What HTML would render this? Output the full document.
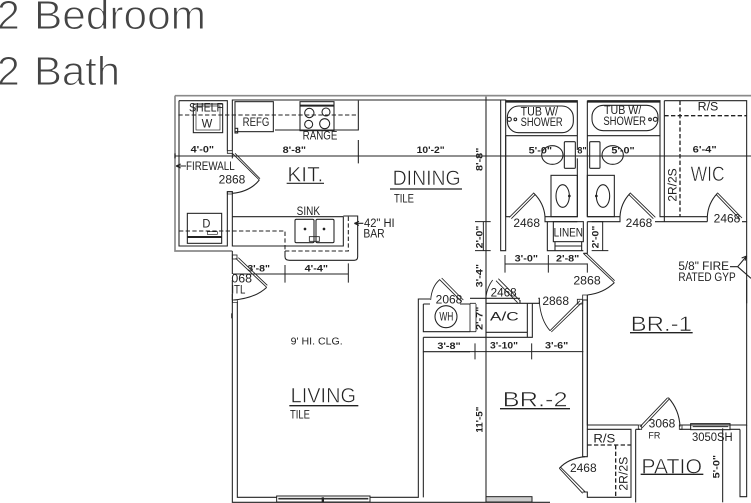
<!DOCTYPE html>
<html><head><meta charset="utf-8"><style>
html,body{margin:0;padding:0;background:#fff;width:751px;height:503px;overflow:hidden}
svg{display:block}
text{font-family:"Liberation Sans",sans-serif;fill:#222}
.l{fill:none;stroke:#222;stroke-width:3.2}
.g{fill:none;stroke:#8a8a8a;stroke-width:5}
.d{fill:none;stroke:#222;stroke-width:3.2;stroke-dasharray:13 7}
.b{font-weight:bold;font-size:27px;fill:#222}
.n{font-size:37px;fill:#222}
.h{font-size:64px;fill:#222;stroke:#fff;stroke-width:1.6px}
.t{fill:#444;stroke:#fff;stroke-width:1px;font-size:41px}
</style></head><body>
<svg width="751" height="503" viewBox="0 0 751 503" xmlns="http://www.w3.org/2000/svg">
<text class="t" x="-3" y="29">2</text><text class="t" x="34" y="29" textLength="172" lengthAdjust="spacingAndGlyphs">Bedroom</text>
<text class="t" x="-3" y="85">2</text><text class="t" x="34" y="85" textLength="86" lengthAdjust="spacingAndGlyphs">Bath</text>

<!-- upper left -->
<g transform="translate(170,90) scale(.33333)">
<path class="g" d="M15 17H1745M15 17V483H187"/>
<path class="l" d="M27 32H172V182M187 182V30H900M27 32V468H172V305H187V380H520M187 305V468H520V380M187 483V630M15 198H900"/>
<path class="l" d="M172 182H187V190H172ZM172 305H187V312H172Z" style="stroke-width:2.5"/>
<path class="d" d="M25 75H565"/>
<path class="l" d="M565 32V120H315M565 150V220M15 190V205M187 190V205"/>
<!-- washer -->
<rect class="l" x="70" y="42" width="88" height="86"/><rect class="l" x="78" y="48" width="72" height="72" style="stroke-width:2"/>
<text class="n" x="57" y="64" textLength="102" lengthAdjust="spacingAndGlyphs">SHELF</text>
<text class="n" x="95" y="112" textLength="32" lengthAdjust="spacingAndGlyphs">W</text>
<!-- refg -->
<rect class="l" x="195" y="35" width="115" height="90"/><rect x="195" y="115" width="8" height="14" class="l"/>
<text class="n" x="218" y="108" textLength="80" lengthAdjust="spacingAndGlyphs">REFG</text>
<!-- range -->
<rect class="l" x="390" y="35" width="102" height="87"/><path class="l" d="M390 47H492" style="stroke-width:6"/>
<circle class="l" cx="418" cy="69" r="14"/><circle class="l" cx="468" cy="66" r="12"/><circle class="l" cx="416" cy="103" r="12"/><circle class="l" cx="464" cy="101" r="15"/>
<text class="n" x="398" y="148" textLength="104" lengthAdjust="spacingAndGlyphs">RANGE</text>
<text class="b" x="62" y="188" textLength="70" lengthAdjust="spacingAndGlyphs">4'-0"</text>
<text class="b" x="338" y="189" textLength="70" lengthAdjust="spacingAndGlyphs">8'-8"</text>
<text class="b" x="740" y="189" textLength="84" lengthAdjust="spacingAndGlyphs">10'-2"</text>
<!-- firewall -->
<path class="l" d="M18 228H48M18 228L32 222M18 228L32 234"/>
<text class="n" x="48" y="240" textLength="146" lengthAdjust="spacingAndGlyphs">FIREWALL</text>
<text class="n" x="146" y="280" textLength="80" lengthAdjust="spacingAndGlyphs">2868</text>
<!-- door -->
<path class="l" d="M187 190L268 270M195 190L270 266" style="stroke-width:2.6"/><path class="l" d="M268 270Q240 305 187 310"/>
<text class="h" x="352" y="275" textLength="108" lengthAdjust="spacingAndGlyphs">KIT.</text>
<path class="l" d="M350 280H462"/>
<text class="h" x="668" y="285" textLength="204" lengthAdjust="spacingAndGlyphs">DINING</text>
<path class="l" d="M660 297H876" style="stroke-width:4"/>
<text class="n" x="672" y="337" textLength="60" lengthAdjust="spacingAndGlyphs">TILE</text>
<!-- dryer -->
<rect class="l" x="52" y="370" width="103" height="90"/>
<path class="l" d="M52 441H155" style="stroke-width:6"/><rect class="l" x="112" y="425" width="30" height="8" style="stroke-width:2"/>
<text class="n" x="97" y="412" textLength="24" lengthAdjust="spacingAndGlyphs">D</text>
<path class="d" d="M27 423H345V483"/>
<path class="d" d="M345 483H535V380"/>
<path class="l" d="M345 483V500Q345 511 358 511H553Q563 511 563 500V378H520"/>
<text class="n" x="380" y="375" textLength="70" lengthAdjust="spacingAndGlyphs">SINK</text>
<rect class="l" x="375" y="388" width="57" height="70" rx="4"/><rect class="l" x="438" y="388" width="54" height="70" rx="4"/>
<circle cx="405" cy="417" r="4" fill="#222"/><circle cx="462" cy="417" r="4" fill="#222"/>
<rect x="418" y="440" width="30" height="14" class="l" style="stroke-width:2.5"/>
<path class="l" d="M553 400H580M553 400L567 394M553 400L567 406"/>
<text class="n" x="582" y="411" textLength="92" lengthAdjust="spacingAndGlyphs">42" HI</text>
<text class="n" x="580" y="443" textLength="64" lengthAdjust="spacingAndGlyphs">BAR</text>
<path class="l" d="M187 552H535M345 525V578M535 520V578" style="stroke-width:3"/>
<text class="b" x="232" y="544" textLength="68" lengthAdjust="spacingAndGlyphs">3'-8"</text>
<text class="b" x="404" y="544" textLength="70" lengthAdjust="spacingAndGlyphs">4'-4"</text>
<!-- entry door -->
<rect class="l" x="187" y="495" width="14" height="12" style="stroke-width:2.5"/>
<path class="l" d="M197 505L290 592M205 503L292 586" style="stroke-width:2.6"/><path class="l" d="M290 592Q255 625 190 630"/>
<rect x="175" y="552" width="14" height="60" fill="#fff"/>
<text class="n" x="184" y="577" textLength="62" lengthAdjust="spacingAndGlyphs">068</text>
<text class="n" x="184" y="610" textLength="42" lengthAdjust="spacingAndGlyphs">ITL</text>
</g>

<!-- upper right -->
<g transform="translate(470,90) scale(.33333)">
<path class="g" d="M0 17H843"/>
<path class="l" d="M0 30H92V482H107V30H92"/>
<path class="l" d="M48 20V640" style="stroke-width:3.2"/>
<path class="l" d="M0 198H843" style="stroke-width:3.2"/>
<!-- bath 1 -->
<path class="l" d="M107 32H322V137H107M322 32V180M322 205V380H225V395H322M107 380H120M352 32V137H570V32H352M352 137V380M352 380H450M352 395V490H340"/>
<path class="l" d="M107 35H322" style="stroke-width:6"/><path class="l" d="M352 35H570" style="stroke-width:6"/>
<rect class="l" x="112" y="48" width="198" height="80" rx="34"/>
<rect class="l" x="366" y="46" width="198" height="76" rx="34"/>
<text class="n" x="152" y="76" textLength="112" lengthAdjust="spacingAndGlyphs">TUB W/</text>
<text class="n" x="152" y="108" textLength="126" lengthAdjust="spacingAndGlyphs">SHOWER</text>
<text class="n" x="402" y="72" textLength="112" lengthAdjust="spacingAndGlyphs">TUB W/</text>
<text class="n" x="400" y="105" textLength="128" lengthAdjust="spacingAndGlyphs">SHOWER</text>
<circle class="l" cx="118" cy="88" r="6"/><circle class="l" cx="136" cy="88" r="4"/><circle class="l" cx="556" cy="88" r="6"/><circle class="l" cx="540" cy="88" r="4"/>
<path class="l" d="M107 137V380M570 137V380H583M583 32V395"/>
<ellipse class="l" cx="247" cy="195" rx="32" ry="28"/><ellipse class="l" cx="428" cy="195" rx="32" ry="28"/>
<rect class="l" x="283" y="155" width="33" height="80" rx="3"/><rect class="l" x="359" y="155" width="31" height="80" rx="3"/>
<text class="b" x="176" y="190" textLength="70" lengthAdjust="spacingAndGlyphs">5'-0"</text>
<text class="b" x="424" y="190" textLength="70" lengthAdjust="spacingAndGlyphs">5'-0"</text>
<text class="b" x="322" y="190" textLength="28" lengthAdjust="spacingAndGlyphs">8"</text>
<text class="b" x="668" y="188" textLength="72" lengthAdjust="spacingAndGlyphs">6'-4"</text>
<!-- vanities -->
<rect class="l" x="243" y="256" width="79" height="124"/><rect class="l" x="352" y="256" width="81" height="124"/>
<ellipse class="l" cx="278" cy="318" rx="20" ry="34"/><ellipse class="l" cx="399" cy="318" rx="20" ry="34"/>
<circle cx="298" cy="318" r="4" fill="#222"/><circle cx="379" cy="318" r="4" fill="#222"/>
<!-- doors -->
<path class="l" d="M118 382L192 308M124 386L195 314" style="stroke-width:2.6"/><path class="l" d="M192 310Q222 340 225 380"/>
<path class="l" d="M556 382L480 308M550 386L477 314" style="stroke-width:2.6"/><path class="l" d="M480 310Q452 340 450 380"/>
<path class="l" d="M816 384L742 308M810 388L739 314" style="stroke-width:2.6"/><path class="l" d="M742 310Q714 340 712 380"/>
<text class="n" x="130" y="411" textLength="80" lengthAdjust="spacingAndGlyphs">2468</text>
<text class="n" x="467" y="411" textLength="80" lengthAdjust="spacingAndGlyphs">2468</text>
<text class="n" x="731" y="397" textLength="80" lengthAdjust="spacingAndGlyphs">2468</text>
<!-- WIC -->
<path class="l" d="M583 32H830V395H816M583 380H628M628 380H712M555 395H712M712 380V395M450 380V395H352"/>
<path class="d" d="M583 77H830M630 32V380" style="stroke-width:4"/>
<text class="n" x="683" y="62" textLength="62" lengthAdjust="spacingAndGlyphs">R/S</text>
<text class="n" transform="translate(619,335) rotate(-90)" textLength="100" lengthAdjust="spacingAndGlyphs">2R/2S</text>
<text class="h" x="662" y="273" textLength="102" lengthAdjust="spacingAndGlyphs">WIC</text>
<!-- dims -->
<path class="l" d="M15 395H62M15 482H62M40 395V482" style="stroke-width:3"/>
<path class="l" d="M365 395H400M365 482H415M398 395V482" style="stroke-width:3"/>
<rect x="18" y="405" width="20" height="70" fill="#fff"/>
<rect x="366" y="405" width="20" height="70" fill="#fff"/>
<text class="b" transform="translate(37,475) rotate(-90)" textLength="68" lengthAdjust="spacingAndGlyphs">2'-0"</text>
<text class="b" transform="translate(385,475) rotate(-90)" textLength="68" lengthAdjust="spacingAndGlyphs">2'-0"</text>
<text class="b" transform="translate(37,243) rotate(-90)" textLength="70" lengthAdjust="spacingAndGlyphs">8'-8"</text>
<text class="b" transform="translate(37,592) rotate(-90)" textLength="70" lengthAdjust="spacingAndGlyphs">3'-4"</text>
<!-- linen -->
<path class="l" d="M232 395V482H340"/>
<rect class="l" x="250" y="395" width="90" height="60"/>
<path class="l" d="M255 455V468H335V455M255 468V482M335 468V482"/>
<text class="n" x="251" y="439" textLength="88" lengthAdjust="spacingAndGlyphs">LINEN</text>
<path class="l" d="M105 522H352M105 495V548M235 495V548M352 520V548" style="stroke-width:3"/>
<text class="b" x="134" y="515" textLength="70" lengthAdjust="spacingAndGlyphs">3'-0"</text>
<text class="b" x="258" y="515" textLength="70" lengthAdjust="spacingAndGlyphs">2'-8"</text>
<path class="l" d="M340 490L433 578M349 490L434 572" style="stroke-width:2.6"/><path class="l" d="M433 578Q400 610 352 615"/>
<text class="n" x="310" y="584" textLength="82" lengthAdjust="spacingAndGlyphs">2868</text>
<text class="n" x="625" y="540" textLength="152" lengthAdjust="spacingAndGlyphs">5/8" FIRE</text>
<text class="n" x="625" y="573" textLength="172" lengthAdjust="spacingAndGlyphs">RATED GYP</text>
<path class="l" d="M780 530H803L830 498M803 530L843 565M830 498L815 504M830 498L825 512"/>
<path class="l" d="M830 395V640"/>
</g>

<!-- lower -->
<g transform="translate(170,280) scale(.33333)">
<path class="l" d="M187 0V667H1140M202 65V652H745V57H780M760 215V652"/>
<rect x="320" y="648" width="280" height="18" fill="#fff" stroke="#222" stroke-width="3"/>
<path d="M325 656H595" stroke="#333" stroke-width="5" fill="none"/>
<rect x="455" y="652" width="7" height="14" fill="#222"/>
<rect x="188" y="60" width="14" height="8" class="l" style="stroke-width:2"/>
<path class="l" d="M184 100V115" style="stroke-width:2"/>
<path class="l" d="M760 72V155H900M760 72H780M870 72H900M760 172H900M760 172V215H900"/>
<circle class="l" cx="828" cy="110" r="33"/>
<text class="n" x="808" y="122" textLength="42" lengthAdjust="spacingAndGlyphs">WH</text>
<text class="n" x="797" y="70" textLength="80" lengthAdjust="spacingAndGlyphs">2068</text>
<path class="l" d="M782 60Q785 20 808 0M808 -2L875 65M815 -6L880 60" style="stroke-width:2.6"/>
<text class="b" x="802" y="207" textLength="70" lengthAdjust="spacingAndGlyphs">3'-8"</text>
<text style="font-size:29px" x="362" y="194" textLength="156" lengthAdjust="spacingAndGlyphs">9' HI. CLG.</text>
<text class="h" x="362" y="368" textLength="196" lengthAdjust="spacingAndGlyphs">LIVING</text>
<path class="l" d="M358 377H565" style="stroke-width:4"/>
<text class="n" x="360" y="416" textLength="60" lengthAdjust="spacingAndGlyphs">TILE</text>
</g>
<g transform="translate(470,280) scale(.33333)">
<path class="l" d="M-60 215H340M15 190V238M185 190V238" style="stroke-width:3"/>
<path class="l" d="M48 0V667"/>
<path class="l" d="M0 55H150M48 55V172M48 70H150V60M172 70V157H48M187 70V172H0M150 70H208M205 55H208V70M172 157V172"/>
<path class="l" d="M18 72V155M0 70H18M0 155H18M0 70V155" style="stroke-width:2.5"/>
<path class="l" d="M48 50Q52 20 68 0M150 62L85 -4M143 68L78 2" style="stroke-width:2.6"/>
<text class="n" x="62" y="50" textLength="78" lengthAdjust="spacingAndGlyphs">2468</text>
<text class="n" x="217" y="75" textLength="80" lengthAdjust="spacingAndGlyphs">2868</text>
<text class="n" x="60" y="122" textLength="86" lengthAdjust="spacingAndGlyphs">A/C</text>
<text class="b" transform="translate(38,150) rotate(-90)" textLength="70" lengthAdjust="spacingAndGlyphs">2'-7"</text>
<text class="b" x="60" y="206" textLength="84" lengthAdjust="spacingAndGlyphs">3'-10"</text>
<text class="b" x="225" y="206" textLength="70" lengthAdjust="spacingAndGlyphs">3'-6"</text>
<path class="l" d="M208 65Q212 120 240 152M330 62L240 152M335 68L244 156" style="stroke-width:2.6"/>
<path class="l" d="M338 45H352V60H338ZM322 58H338V72H322Z" style="stroke-width:2.5"/>
<path class="l" d="M338 60V530H352V448H483V652H352V636H338M352 45V435H505M630 435H830V0"/>
<path class="l" d="M338 60H352V448"/>
<path class="d" d="M352 495H483M437 495V652" style="stroke-width:4"/>
<text class="n" x="370" y="488" textLength="66" lengthAdjust="spacingAndGlyphs">R/S</text>
<text class="n" transform="translate(473,632) rotate(-90)" textLength="102" lengthAdjust="spacingAndGlyphs">2R/2S</text>
<path class="l" d="M338 640L268 565M345 635L272 562" style="stroke-width:2.6"/><path class="l" d="M268 565Q295 535 345 530"/>
<text class="n" x="300" y="576" textLength="80" lengthAdjust="spacingAndGlyphs">2468</text>
<text class="h" x="98" y="380" textLength="195" lengthAdjust="spacingAndGlyphs">BR.-2</text>
<path class="l" d="M90 386H300" style="stroke-width:4"/>
<text class="h" x="482" y="153" textLength="184" lengthAdjust="spacingAndGlyphs">BR.-1</text>
<path class="l" d="M480 158H668" style="stroke-width:4"/>
<text class="b" transform="translate(38,458) rotate(-90)" textLength="78" lengthAdjust="spacingAndGlyphs">11'-5"</text>
<rect x="48" y="650" width="138" height="16" fill="#ccc" stroke="#222" stroke-width="3"/>
<!-- patio -->
<path class="l" d="M497 448V667M497 448H510M630 448H662M780 448H810M810 448V650H830V435"/>
<path class="l" d="M510 440L593 353M516 444L597 358" style="stroke-width:2.6"/><path class="l" d="M595 353Q628 390 630 440"/>
<path class="l" d="M505 435H515V448H505ZM628 435H636V448H628Z" style="stroke-width:2.5"/>
<rect class="l" x="662" y="431" width="118" height="18"/><path class="l" d="M668 440H775" style="stroke-width:3"/>
<text class="n" x="536" y="442" textLength="80" lengthAdjust="spacingAndGlyphs">3068</text>
<text style="font-size:28px" x="535" y="476" textLength="36" lengthAdjust="spacingAndGlyphs">FR</text>
<text class="n" x="666" y="483" textLength="122" lengthAdjust="spacingAndGlyphs">3050SH</text>
<text class="h" x="514" y="581" textLength="182" lengthAdjust="spacingAndGlyphs">PATIO</text>
<path class="l" d="M512 583H700" style="stroke-width:4"/>
<path class="l" d="M758 445V667"/>
<text class="b" transform="translate(749,595) rotate(-90)" textLength="70" lengthAdjust="spacingAndGlyphs">5'-0"</text>
</g>
</svg>
</body></html>
